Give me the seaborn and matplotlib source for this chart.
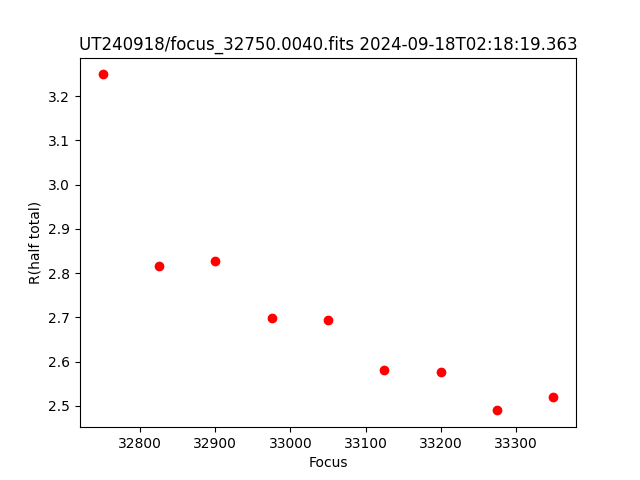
import matplotlib
matplotlib.use("Agg")
import matplotlib.pyplot as plt
import seaborn as sns
import pandas as pd

focus = [32750, 32825, 32900, 32975, 33050, 33125, 33200, 33275, 33350]
r_half = [3.249, 2.816, 2.827, 2.698, 2.694, 2.581, 2.576, 2.490, 2.520]

df = pd.DataFrame({"Focus": focus, "R": r_half})

fig, ax = plt.subplots(figsize=(6.4, 4.8), dpi=100)
sns.scatterplot(data=df, x="Focus", y="R", color="red", s=36,
                edgecolor="red", linewidth=1, ax=ax)
ax.set_xlabel("Focus")
ax.set_ylabel("R(half total)")
ax.set_title("UT240918/focus_32750.0040.fits 2024-09-18T02:18:19.363")
fig.savefig("out.png", dpi=100)
